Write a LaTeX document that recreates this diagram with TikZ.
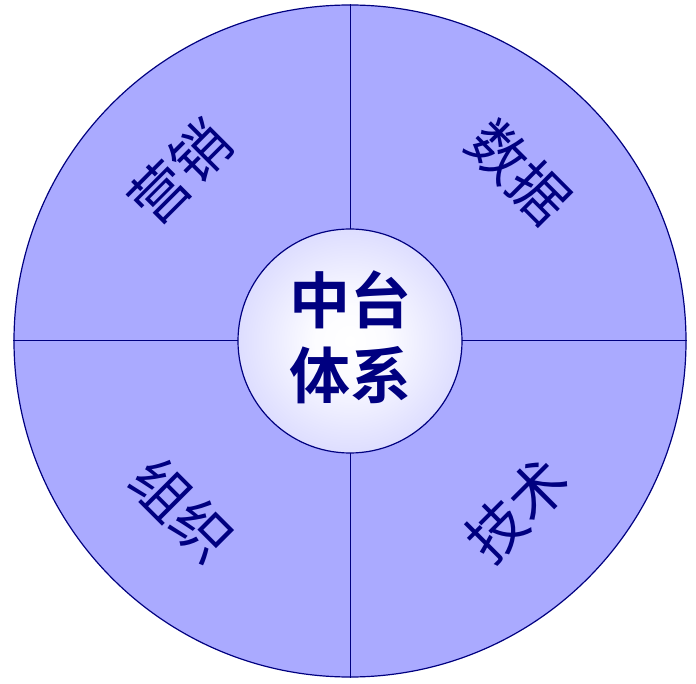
\documentclass[tikz,border=0pt]{standalone}
\usepackage{fontspec}
\newfontfamily\cjk[BoldFont={Noto Sans CJK SC Bold}]{Noto Sans CJK SC}
\definecolor{fillblue}{RGB}{170,170,255}
\definecolor{navy}{RGB}{0,0,128}
\pgfdeclareradialshading{coreshade}{\pgfpoint{0bp}{0bp}}{color(0bp)=(white); color(8bp)=(white!96!fillblue); color(50bp)=(fillblue!92!white)}
\tikzset{
  ring/.style={circle, draw=navy, line width=1.2pt, fill=fillblue, minimum size=672pt, inner sep=0pt},
  divider/.style={draw=navy, line width=1pt},
  corebox/.style={circle, draw=navy, line width=1.2pt, shading=coreshade, minimum size=224pt, inner sep=0pt},
  coretext/.style={text=navy, font=\cjk\bfseries\fontsize{61}{75}\selectfont, align=center},
  label/.style={text=navy, font=\cjk\fontsize{58}{64}\selectfont, inner sep=0pt}
}
\begin{document}
\begin{tikzpicture}[x=1pt,y=-1pt]
\useasboundingbox (0,0) rectangle (696,684);
\node[ring] (outer) at (350,341) {};
\draw[divider] (outer.north) -- (outer.south);
\draw[divider] (outer.west) -- (outer.east);
\node[corebox] (core) at (350,341) {};
\node[coretext] (coretxt) at (350,337) {中台\\体系};
\node[label, rotate=45] (yx) at (180,172) {营销};
\node[label, rotate=-45] (sj) at (519,172) {数据};
\node[label, rotate=-45] (zz) at (182,510) {组织};
\node[label, rotate=45] (js) at (517,510) {技术};
\end{tikzpicture}
\end{document}
